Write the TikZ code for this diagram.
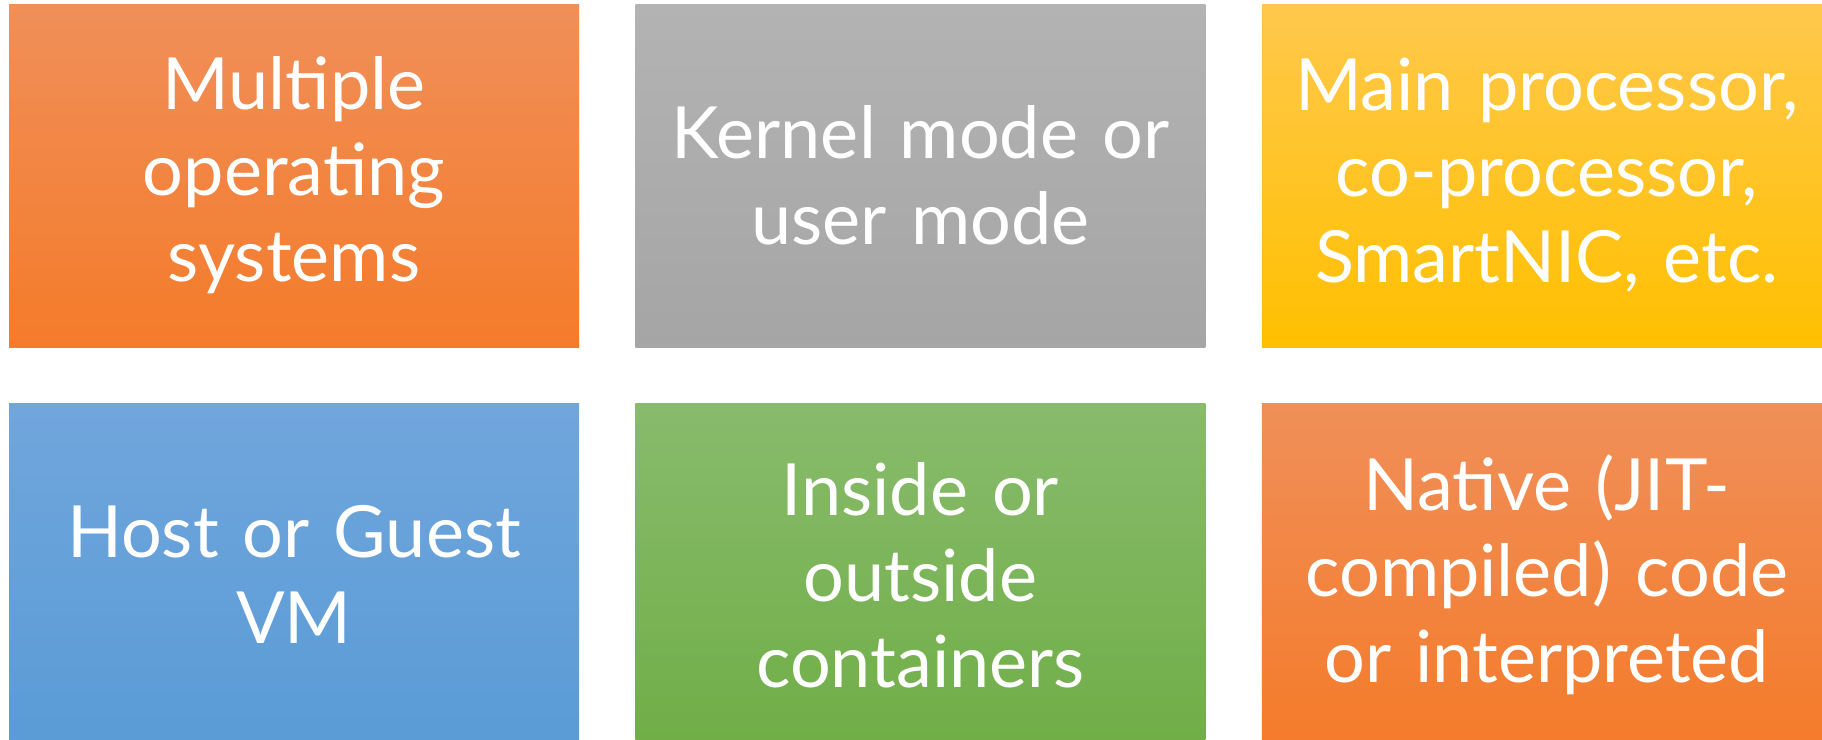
\documentclass[tikz,border=0pt]{standalone}
\usepackage{fontspec}
\setmainfont{Lato}
\usepackage{tikz}
\usetikzlibrary{positioning}

\definecolor{orangetop}{HTML}{F08F59}
\definecolor{orangebot}{HTML}{F47B2A}
\definecolor{greytop}{HTML}{B3B3B3}
\definecolor{greybot}{HTML}{A5A5A5}
\definecolor{goldtop}{HTML}{FFC84C}
\definecolor{goldbot}{HTML}{FFC000}
\definecolor{bluetop}{HTML}{70A6DC}
\definecolor{bluebot}{HTML}{5A9BD6}
\definecolor{greentop}{HTML}{88BB6C}
\definecolor{greenbot}{HTML}{70AE47}

\begin{document}
\begin{tikzpicture}[
  tile/.style={rectangle, minimum width=570pt, minimum height=343pt,
               inner sep=0pt, text width=560pt, align=center,
               text=white, font=\fontsize{72}{86}\selectfont,
               top color=#1top, bottom color=#1bot},
  tile/.default={orange}
]
  \useasboundingbox (0,0) rectangle (1822pt,-739pt);
  \clip (0,0) rectangle (1822pt,-739pt);

  % Row 1
  \node[tile=orange] (os) at (294pt,-175.5pt) {Multiple\\operating\\systems};
  \node[tile=grey, right=56pt of os] (mode) {Kernel mode or\\user mode};
  \node[tile=gold, right=56pt of mode] (proc) {Main processor,\\co-processor,\\SmartNIC, etc.};

  % Row 2
  \node[tile=blue, below=56pt of os] (vm) {Host or Guest\\VM};
  \node[tile=green, right=56pt of vm] (cont) {Inside or\\outside\\containers};
  \node[tile=orange, right=56pt of cont] (code) {Native (JIT-\\compiled) code\\or interpreted};
\end{tikzpicture}
\end{document}
